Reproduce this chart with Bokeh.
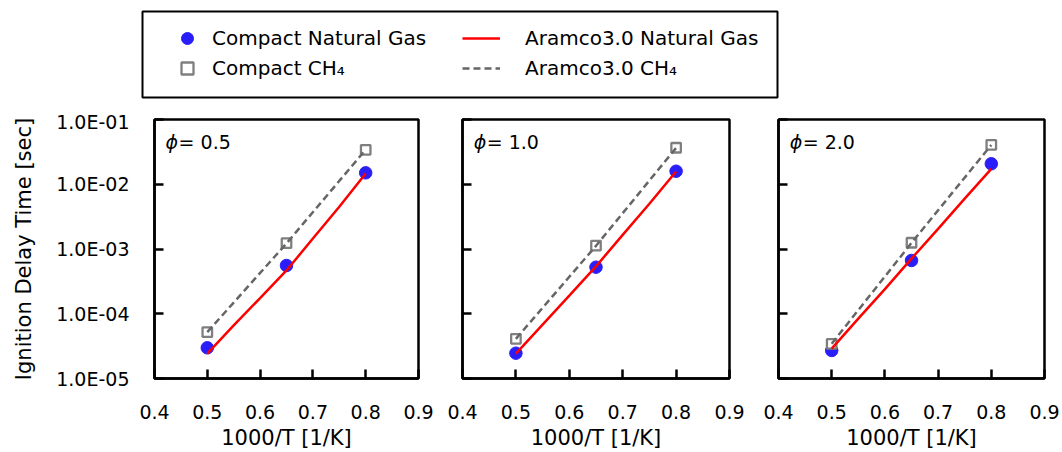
from bokeh.plotting import figure
from bokeh.models import (Range1d, FixedTicker, CustomJSTickFormatter, Legend,
                          LegendItem, ColumnDataSource, Label)
from bokeh.layouts import column, row
from bokeh.embed import file_html
from bokeh.resources import INLINE

FONT = "DejaVu Sans"
BLUE = "#2A1EF8"
SQ_GRAY = "#7F7F7F"
DASH_GRAY = "#666666"
RED = "#FF0000"

# ---------------- data ----------------
x_ticks = [0.4, 0.5, 0.6, 0.7, 0.8, 0.9]
x_tick_labels = ["0.4", "0.5", "0.6", "0.7", "0.8", "0.9"]
y_ticks = [1e-5, 1e-4, 1e-3, 1e-2, 1e-1]
y_tick_labels = ["1.0E-05", "1.0E-04", "1.0E-03", "1.0E-02", "1.0E-01"]

phi_values = ["0.5", "1.0", "2.0"]

x_points = [0.5, 0.65, 0.8]
x_curve = [0.5, 0.55, 0.6, 0.65, 0.7, 0.75, 0.8]

compact_ng_phi05 = [2.98e-5, 5.56e-4, 1.50e-2]
compact_ng_phi10 = [2.46e-5, 5.24e-4, 1.59e-2]
compact_ng_phi20 = [2.71e-5, 6.65e-4, 2.07e-2]

compact_ch4_phi05 = [5.19e-5, 1.23e-3, 3.40e-2]
compact_ch4_phi10 = [4.10e-5, 1.13e-3, 3.66e-2]
compact_ch4_phi20 = [3.43e-5, 1.25e-3, 4.06e-2]

aramco_ng_phi05 = [2.43e-5, 6.6e-5, 1.75e-4, 4.66e-4, 1.45e-3, 4.5e-3, 1.47e-2]
aramco_ng_phi10 = [2.43e-5, 6.8e-5, 1.9e-4, 5.4e-4, 1.65e-3, 5.0e-3, 1.57e-2]
aramco_ng_phi20 = [2.9e-5, 8.4e-5, 2.4e-4, 7.1e-4, 2.05e-3, 6.0e-3, 1.73e-2]

aramco_ch4_phi05 = [5.2e-5, 1.22e-3, 3.42e-2]
aramco_ch4_phi10 = [4.1e-5, 1.12e-3, 3.64e-2]
aramco_ch4_phi20 = [3.45e-5, 1.24e-3, 4.05e-2]

series_names = ["Compact Natural Gas", "Compact CH\u2084",
                "Aramco3.0 Natural Gas", "Aramco3.0 CH\u2084"]

# annotation anchor (data coords of the top-left panel corner text)
phi_label_x = 0.421
phi_label_y = 0.045

NEAREST_JS = """
let best = 0, bd = Infinity;
for (let i = 0; i < vals.length; i++) {
  const d = Math.abs(logscale ? Math.log10(tick) - Math.log10(vals[i]) : tick - vals[i]);
  if (d < bd) { bd = d; best = i; }
}
return labs[best];
"""


def make_panel(ng, ch4, ar_ng, ar_ch4, phi, width, bl, br, first):
    p = figure(width=width, height=342, x_range=Range1d(0.4, 0.9),
               y_range=Range1d(1e-5, 1e-1), y_axis_type="log",
               toolbar_location=None, output_backend="svg",
               min_border_left=bl, min_border_right=br,
               min_border_top=9, min_border_bottom=74)
    p.grid.visible = False
    p.outline_line_color = "black"
    p.outline_line_width = 2.5
    p.background_fill_color = "white"
    p.border_fill_color = "white"

    xa = p.xaxis[0]
    ya = p.yaxis[0]
    for ax in (xa, ya):
        ax.axis_line_width = 2.5
        ax.axis_line_color = "black"
        ax.major_tick_in = 9
        ax.major_tick_out = 0
        ax.major_tick_line_width = 2.5
        ax.major_tick_line_color = "black"
        ax.minor_tick_line_color = None
        ax.major_label_text_font = FONT
        ax.major_label_text_font_size = "19px"
        ax.major_label_text_color = "black"
        ax.axis_label_text_font = FONT
        ax.axis_label_text_font_size = "21px"
        ax.axis_label_text_font_style = "normal"
        ax.axis_label_text_color = "black"

    xa.ticker = FixedTicker(ticks=x_ticks)
    xa.formatter = CustomJSTickFormatter(
        args=dict(vals=x_ticks, labs=x_tick_labels, logscale=False), code=NEAREST_JS)
    xa.major_label_standoff = 26
    xa.axis_label = "1000/T [1/K]"
    xa.axis_label_standoff = 4

    ya.ticker = FixedTicker(ticks=y_ticks)
    if first:
        ya.formatter = CustomJSTickFormatter(
            args=dict(vals=y_ticks, labs=y_tick_labels, logscale=True), code=NEAREST_JS)
        ya.major_label_standoff = 25
        ya.axis_label = "Ignition Delay Time [sec]"
        ya.axis_label_standoff = 17
    else:
        ya.formatter = CustomJSTickFormatter(
            args=dict(vals=y_ticks, labs=["" for _ in y_ticks], logscale=True), code=NEAREST_JS)
        ya.major_label_standoff = 0

    p.scatter(x_points, ng, marker="circle", size=12.5,
              fill_color=BLUE, line_color=BLUE)
    p.scatter(x_points, ch4, marker="square", size=9.5,
              fill_color="white", line_color=SQ_GRAY, line_width=2.3)
    p.line(x_curve, ar_ng, line_color=RED, line_width=2.5)
    p.line(x_points, ar_ch4, line_color=DASH_GRAY, line_width=2.5, line_dash="7 4")

    p.add_layout(Label(x=phi_label_x, y=phi_label_y, text="\u03d5",
                       text_font=FONT, text_font_style="italic",
                       text_font_size="19px", text_baseline="middle",
                       text_color="black"))
    p.add_layout(Label(x=phi_label_x, y=phi_label_y, x_offset=13, text="= " + phi,
                       text_font=FONT, text_font_size="19px",
                       text_baseline="middle", text_color="black"))
    return p


p1 = make_panel(compact_ng_phi05, compact_ch4_phi05, aramco_ng_phi05, aramco_ch4_phi05,
                phi_values[0], 440, 154, 22, True)
p2 = make_panel(compact_ng_phi10, compact_ch4_phi10, aramco_ng_phi10, aramco_ch4_phi10,
                phi_values[1], 313, 22, 24, False)
p3 = make_panel(compact_ng_phi20, compact_ch4_phi20, aramco_ng_phi20, aramco_ch4_phi20,
                phi_values[2], 309, 25, 18, False)

# ---------------- legend strip ----------------
pl = figure(width=1062, height=110, x_range=Range1d(0, 1), y_range=Range1d(0, 1),
            toolbar_location=None, output_backend="svg",
            x_axis_location=None, y_axis_location=None,
            min_border_left=142, min_border_right=285,
            min_border_top=11, min_border_bottom=13)
pl.grid.visible = False
pl.outline_line_color = "black"
pl.outline_line_width = 2
pl.background_fill_color = "white"
pl.border_fill_color = "white"

# placeholder source: a single NaN row so legend glyphs draw but nothing is plotted
nan = float("nan")
dummy = ColumnDataSource(data=dict(x=[nan], y=[nan]))
r_ng = pl.scatter("x", "y", source=dummy, marker="circle", size=12.5,
                  fill_color=BLUE, line_color=BLUE)
r_ch4 = pl.scatter("x", "y", source=dummy, marker="square", size=9.5,
                   fill_color="white", line_color=SQ_GRAY, line_width=2.3)
r_ar_ng = pl.line("x", "y", source=dummy, line_color=RED, line_width=2.5)
r_ar_ch4 = pl.line("x", "y", source=dummy, line_color=DASH_GRAY,
                   line_width=2.5, line_dash="7 4")

common = dict(orientation="vertical", glyph_height=30, label_height=30,
              spacing=0, padding=0, margin=0,
              label_text_font=FONT, label_text_font_size="20px",
              label_text_color="black", border_line_color=None,
              background_fill_alpha=0)
leg1 = Legend(items=[LegendItem(label=series_names[0], renderers=[r_ng]),
                     LegendItem(label=series_names[1], renderers=[r_ch4])],
              location=(30, 14), glyph_width=30, label_standoff=10, **common)
leg2 = Legend(items=[LegendItem(label=series_names[2], renderers=[r_ar_ng]),
                     LegendItem(label=series_names[3], renderers=[r_ar_ch4])],
              location=(320, 14), glyph_width=38, label_standoff=25, **common)
pl.add_layout(leg1)
pl.add_layout(leg2)

layout = column(pl, row(p1, p2, p3))

open("out.html", "w").write(file_html(layout, INLINE))
